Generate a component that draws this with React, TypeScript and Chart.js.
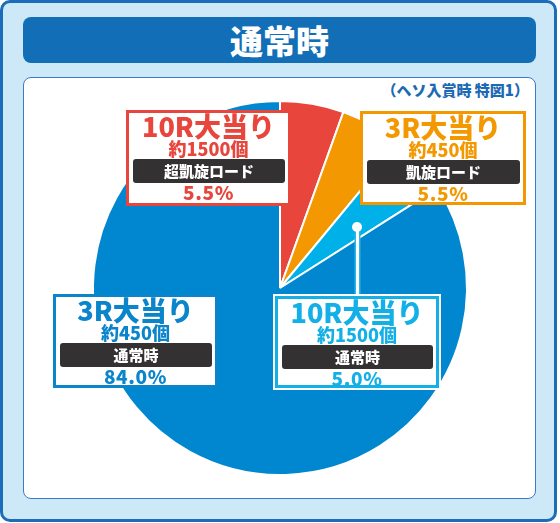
import React, { useEffect, useRef } from "react";
import { Chart, registerables } from "chart.js";

Chart.register(...registerables);

const categories = ["10R大当り 超凱旋ロード", "3R大当り 凱旋ロード", "10R大当り 通常時", "3R大当り 通常時"];
const shares = [5.5, 5.5, 5.0, 84.0];
const sliceColors = ["#e8463d", "#f39800", "#00b1e9", "#0087cf"];

const titleText = "通常時";
const subtitleText = "（ヘソ入賞時 特図1）";

const labelTitles = ["10R大当り", "3R大当り", "10R大当り", "3R大当り"];
const labelCounts = ["約1500個", "約450個", "約1500個", "約450個"];
const labelModes = ["超凱旋ロード", "凱旋ロード", "通常時", "通常時"];
const labelPcts = ["5.5%", "5.5%", "5.0%", "84.0%"];
const labelColors = ["#e8453c", "#f39800", "#12b0e6", "#0a85cc"];

const FONT = '"Noto Sans CJK JP", "Noto Sans", sans-serif';

type BoxProps = {
  left: number;
  top: number;
  width: number;
  height: number;
  idx: number;
  ring?: boolean;
};

function LabelBox({ left, top, width, height, idx, ring }: BoxProps) {
  const color = labelColors[idx];
  const center = (y: number, size: number, extra: any = {}) => ({
    position: "absolute" as const,
    left: 0,
    width: "100%",
    top: y - size / 2,
    height: size,
    lineHeight: size + "px",
    fontSize: size,
    textAlign: "center" as const,
    fontWeight: 900,
    color,
    whiteSpace: "nowrap" as const,
    ...extra,
  });
  return (
    <div
      style={{
        position: "absolute",
        left,
        top,
        width,
        height,
        boxSizing: "border-box",
        border: `3px solid ${color}`,
        background: "#fff",
        boxShadow: ring ? "0 0 0 2px #fff" : undefined,
      }}
    >
      <div style={center(12.5, 27, { letterSpacing: "0px" })}>{labelTitles[idx]}</div>
      <div style={center(35, 18)}>{labelCounts[idx]}</div>
      <div
        style={{
          position: "absolute",
          left: 4,
          right: 3,
          top: 46,
          height: 24,
          background: "#333131",
          borderRadius: 3,
          color: "#fff",
          fontSize: 15,
          fontWeight: 900,
          lineHeight: "24px",
          textAlign: "center",
          whiteSpace: "nowrap",
        }}
      >
        {labelModes[idx]}
      </div>
      <div style={center(78, 19, { letterSpacing: "0.6px" })}>{labelPcts[idx]}</div>
    </div>
  );
}

export default function App() {
  const canvasRef = useRef<HTMLCanvasElement | null>(null);

  useEffect(() => {
    const canvas = canvasRef.current;
    if (!canvas) return;
    const chart = new Chart(canvas, {
      type: "pie",
      data: {
        labels: categories,
        datasets: [
          {
            data: shares,
            backgroundColor: sliceColors,
            borderColor: "#ffffff",
            borderWidth: 2,
            radius: 187,
          } as any,
        ],
      },
      options: {
        responsive: false,
        maintainAspectRatio: false,
        animation: false,
        events: [],
        layout: { padding: 0 },
        plugins: {
          legend: { display: false },
          tooltip: { enabled: false },
          title: { display: false },
        },
      },
    });
    return () => chart.destroy();
  }, []);

  return (
    <div
      style={{
        position: "absolute",
        left: 0,
        top: 0,
        width: 560,
        height: 523,
        fontFamily: FONT,
        background: "#fff",
        overflow: "hidden",
      }}
    >
      <div
        style={{
          position: "absolute",
          left: 0,
          top: 0,
          width: 557,
          height: 522,
          boxSizing: "border-box",
          border: "3px solid #1a6db6",
          borderRadius: 10,
          background: "#cde9f7",
        }}
      />
      <div
        style={{
          position: "absolute",
          left: 23,
          top: 17,
          width: 513,
          height: 46,
          background: "#116eb7",
          borderRadius: 8,
          color: "#fff",
          fontSize: 33,
          fontWeight: 900,
          lineHeight: "46px",
          textAlign: "center",
        }}
      >
        {titleText}
      </div>
      <div
        style={{
          position: "absolute",
          left: 23,
          top: 77,
          width: 513,
          height: 422,
          boxSizing: "border-box",
          background: "#fff",
          border: "1px solid #3b7cc6",
          borderRadius: 8,
        }}
      />
      <div
        style={{
          position: "absolute",
          right: 560 - 529,
          top: 80,
          height: 19,
          lineHeight: "19px",
          fontSize: 15,
          fontWeight: 900,
          color: "#1b6ab3",
          whiteSpace: "nowrap",
        }}
      >
        {subtitleText}
      </div>
      <canvas
        ref={canvasRef}
        width={400}
        height={400}
        style={{ position: "absolute", left: 80, top: 88, width: 400, height: 400 }}
      />
      {/* leader line for the light-blue slice */}
      <div
        style={{
          position: "absolute",
          left: 355.5,
          top: 227,
          width: 3,
          height: 70,
          background: "#fff",
          boxShadow: "0 0 0 1.5px #2bb6ea",
        }}
      />
      <div
        style={{
          position: "absolute",
          left: 352,
          top: 222,
          width: 10,
          height: 10,
          borderRadius: "50%",
          background: "#fff",
        }}
      />
      <LabelBox left={126} top={110} width={165} height={96} idx={0} />
      <LabelBox left={360} top={111} width={166} height={94} idx={1} />
      <LabelBox left={53} top={294} width={165} height={94} idx={3} />
      <LabelBox left={275} top={296} width={164} height={92} idx={2} ring />
    </div>
  );
}
